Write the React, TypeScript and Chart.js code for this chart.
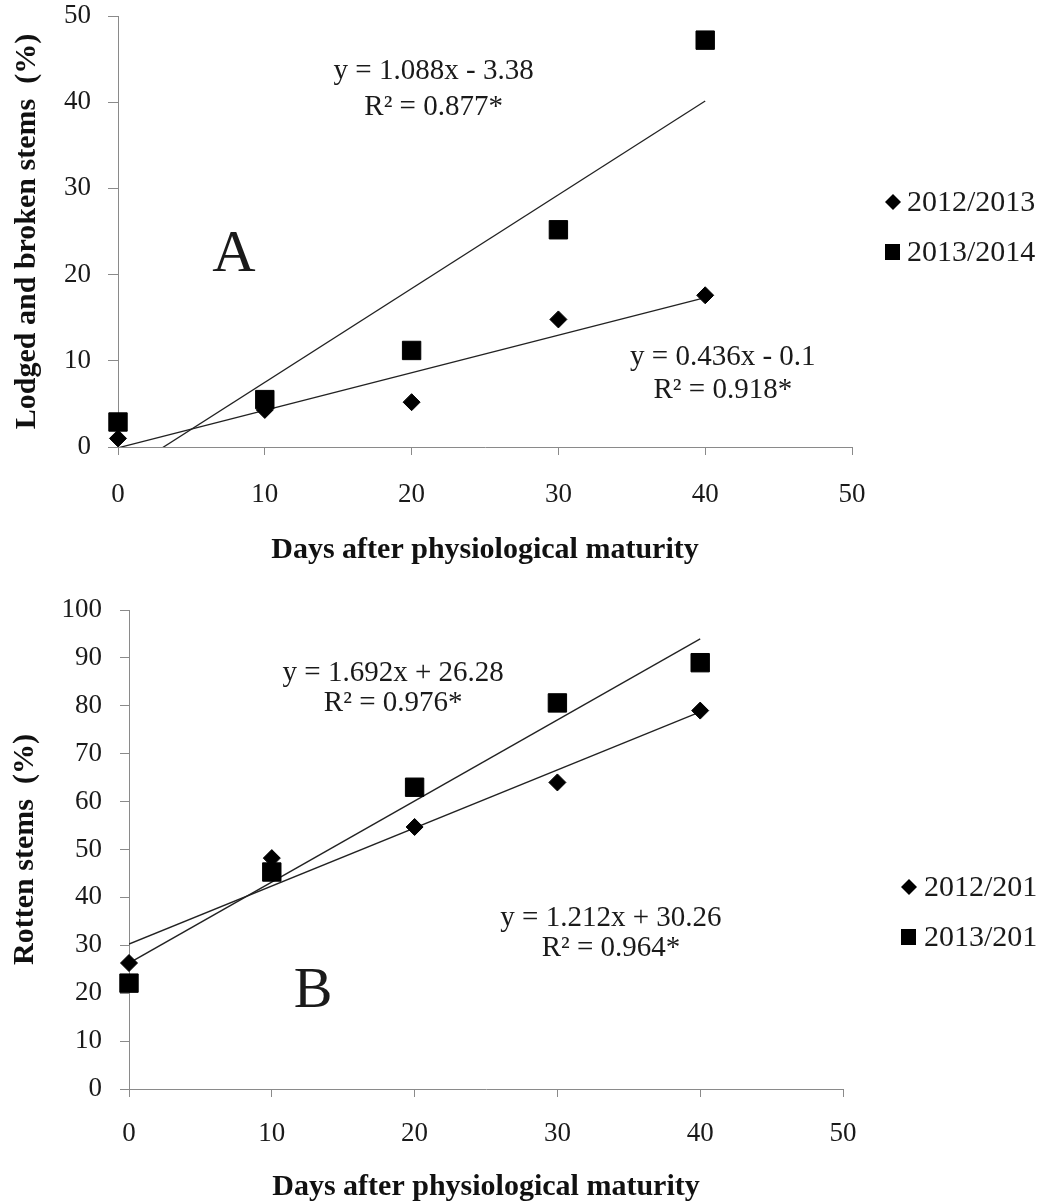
import React, { useEffect, useRef } from "react";
import { Chart, registerables } from "chart.js";

Chart.register(...registerables);

// ---------- data ----------
const days = [0, 10, 20, 30, 40];
const seriesLabels = ["2012/2013", "2013/2014"];

// Panel A: lodged and broken stems (%)
const lodged2012 = [1.0, 4.3, 5.2, 14.8, 17.6];
const lodged2013 = [2.9, 5.5, 11.2, 25.2, 47.2];
const lodgedSlopes = [0.436, 1.088];
const lodgedIntercepts = [-0.1, -3.38];
const lodgedR2 = ["0.918", "0.877"];

// Panel B: rotten stems (%)
const rotten2012 = [26.3, 48.2, 54.7, 64.0, 79.0];
const rotten2013 = [22.1, 45.3, 63.0, 80.6, 89.0];
const rottenSlopes = [1.212, 1.692];
const rottenIntercepts = [30.26, 26.28];
const rottenR2 = ["0.964", "0.976"];

const trendRange = [0, 40];
const xTicks = [0, 10, 20, 30, 40, 50];
const yTicksA = [0, 10, 20, 30, 40, 50];
const yTicksB = [0, 10, 20, 30, 40, 50, 60, 70, 80, 90, 100];

// ---------- styling ----------
const SERIF = "'Liberation Serif', 'Times New Roman', serif";
const INK = "#1a1a1a";
const AXIS = "#8a8a8a";

function eqText(slope: number, intercept: number) {
  const sign = intercept < 0 ? "-" : "+";
  return `y = ${slope.toFixed(3)}x ${sign} ${Math.abs(intercept)}`;
}

function trendPoints(slope: number, intercept: number) {
  return trendRange.map((d) => ({ x: d, y: slope * d + intercept }));
}

function pts(vals: number[]) {
  return vals.map((v, i) => ({ x: days[i], y: v }));
}

type Note = { text: string; x: number; y: number; size: number };
type PanelCfg = {
  height: number;
  yTitle: string;
  yMax: number;
  yTicks: number[];
  s2012: number[];
  s2013: number[];
  slopes: number[];
  intercepts: number[];
  r2: string[];
  eqPos: number[][];
  letter: string;
  letterPos: number[];
  letterSize: number;
  yAxisWidth: number;
  padRight: number;
  padTop: number;
  xAxisHeight: number;
  yTitlePad: number;
  yTickLen: number;
  yTickPad: number;
  xTickPad: number;
  xTitlePad: number;
  legendMarkerX: number;
  legendTextX: number;
  legendRows: number[];
  legendClipX: number;
};

const panelA: PanelCfg = {
  height: 585,
  yTitle: "Lodged and broken stems  (%)",
  yMax: 50,
  yTicks: yTicksA,
  s2012: lodged2012,
  s2013: lodged2013,
  slopes: lodgedSlopes,
  intercepts: lodgedIntercepts,
  r2: lodgedR2,
  eqPos: [
    [41.2, 10.4, 6.6],
    [21.5, 43.6, 39.4],
  ],
  letter: "A",
  letterPos: [7.9, 22.3],
  letterSize: 60,
  yAxisWidth: 118,
  padRight: 191,
  padTop: 16,
  xAxisHeight: 138,
  yTitlePad: 12,
  yTickLen: 10,
  yTickPad: 17,
  xTickPad: 24,
  xTitlePad: 20,
  legendMarkerX: 893,
  legendTextX: 907,
  legendRows: [202, 252],
  legendClipX: 1043,
};

const panelB: PanelCfg = {
  height: 617,
  yTitle: "Rotten stems  (%)",
  yMax: 100,
  yTicks: yTicksB,
  s2012: rotten2012,
  s2013: rotten2013,
  slopes: rottenSlopes,
  intercepts: rottenIntercepts,
  r2: rottenR2,
  eqPos: [
    [33.75, 35.7, 29.4],
    [18.5, 86.8, 80.6],
  ],
  letter: "B",
  letterPos: [12.9, 20.3],
  letterSize: 58,
  yAxisWidth: 129,
  padRight: 200,
  padTop: 25,
  xAxisHeight: 113,
  yTitlePad: 10,
  yTickLen: 9,
  yTickPad: 18,
  xTickPad: 21,
  xTitlePad: 0,
  legendMarkerX: 909,
  legendTextX: 924,
  legendRows: [302, 352],
  legendClipX: 1036,
};

function makeChart(canvas: HTMLCanvasElement, p: PanelCfg) {
  const notes: Note[] = [];
  for (let i = 0; i < 2; i++) {
    notes.push({ text: eqText(p.slopes[i], p.intercepts[i]), x: p.eqPos[i][0], y: p.eqPos[i][1], size: 29 });
    notes.push({ text: `R\u00B2 = ${p.r2[i]}*`, x: p.eqPos[i][0], y: p.eqPos[i][2], size: 29 });
  }
  notes.push({ text: p.letter, x: p.letterPos[0], y: p.letterPos[1], size: p.letterSize });

  const overlay = {
    id: "overlay",
    afterDraw(chart: any) {
      const { ctx } = chart;
      const xs = chart.scales.x;
      const ys = chart.scales.y;
      ctx.save();
      ctx.fillStyle = INK;
      ctx.textAlign = "center";
      ctx.textBaseline = "middle";
      for (const n of notes) {
        ctx.font = `${n.size}px ${SERIF}`;
        ctx.fillText(n.text, xs.getPixelForValue(n.x), ys.getPixelForValue(n.y));
      }
      // legend
      ctx.beginPath();
      ctx.rect(0, 0, p.legendClipX, chart.height);
      ctx.clip();
      ctx.textAlign = "left";
      ctx.font = `30px ${SERIF}`;
      const mx = p.legendMarkerX;
      const r0 = p.legendRows[0];
      const r1 = p.legendRows[1];
      ctx.fillStyle = "#000";
      ctx.beginPath();
      ctx.moveTo(mx - 8, r0);
      ctx.lineTo(mx, r0 - 8);
      ctx.lineTo(mx + 8, r0);
      ctx.lineTo(mx, r0 + 8);
      ctx.closePath();
      ctx.fill();
      ctx.fillRect(mx - 8, r1 - 8, 15, 16);
      ctx.fillStyle = INK;
      ctx.fillText(seriesLabels[0], p.legendTextX, r0 + 1);
      ctx.fillText(seriesLabels[1], p.legendTextX, r1 + 1);
      ctx.restore();
    },
  };

  const zeroPad = (s: any) => {
    s.paddingTop = 0;
    s.paddingBottom = 0;
    s.paddingLeft = 0;
    s.paddingRight = 0;
  };

  return new Chart(canvas, {
    type: "scatter",
    data: {
      datasets: [
        {
          label: seriesLabels[1],
          data: pts(p.s2013),
          pointStyle: "rect",
          pointRadius: 13,
          pointBackgroundColor: "#000",
          pointBorderColor: "#000",
          pointBorderWidth: 1,
          showLine: false,
          clip: false,
        },
        {
          label: seriesLabels[0],
          data: pts(p.s2012),
          pointStyle: "rectRot",
          pointRadius: 8.5,
          pointBackgroundColor: "#000",
          pointBorderColor: "#000",
          pointBorderWidth: 1,
          showLine: false,
          clip: false,
        },
        {
          label: "trend " + seriesLabels[0],
          data: trendPoints(p.slopes[0], p.intercepts[0]),
          showLine: true,
          pointRadius: 0,
          borderColor: "#222",
          borderWidth: 1.3,
        },
        {
          label: "trend " + seriesLabels[1],
          data: trendPoints(p.slopes[1], p.intercepts[1]),
          showLine: true,
          pointRadius: 0,
          borderColor: "#222",
          borderWidth: 1.3,
        },
      ],
    },
    options: {
      responsive: false,
      animation: false,
      devicePixelRatio: 1,
      layout: { padding: { left: 0, right: p.padRight, top: p.padTop, bottom: 0 } },
      plugins: { legend: { display: false }, tooltip: { enabled: false } },
      scales: {
        x: {
          type: "linear",
          min: 0,
          max: 50,
          afterBuildTicks: (s: any) => {
            s.ticks = xTicks.map((v) => ({ value: v }));
          },
          afterFit: (s: any) => {
            s.height = p.xAxisHeight;
            zeroPad(s);
          },
          ticks: { font: { family: SERIF, size: 27 }, color: INK, padding: p.xTickPad, maxRotation: 0 },
          grid: { drawOnChartArea: false, drawTicks: true, tickLength: 8, color: AXIS, lineWidth: 1 },
          border: { color: AXIS, width: 1 },
          title: {
            display: true,
            text: "Days after physiological maturity",
            font: { family: SERIF, size: 30, weight: "bold", lineHeight: 1 },
            color: "#111",
            padding: { top: 0, bottom: p.xTitlePad },
          },
        },
        y: {
          type: "linear",
          min: 0,
          max: p.yMax,
          afterBuildTicks: (s: any) => {
            s.ticks = p.yTicks.map((v) => ({ value: v }));
          },
          afterFit: (s: any) => {
            s.width = p.yAxisWidth;
            zeroPad(s);
          },
          ticks: { font: { family: SERIF, size: 27 }, color: INK, padding: p.yTickPad },
          grid: { drawOnChartArea: false, drawTicks: true, tickLength: p.yTickLen, color: AXIS, lineWidth: 1 },
          border: { color: AXIS, width: 1 },
          title: {
            display: true,
            text: p.yTitle,
            font: { family: SERIF, size: 30, weight: "bold", lineHeight: 1 },
            color: "#111",
            padding: { top: p.yTitlePad, bottom: 0 },
          },
        },
      },
    } as any,
    plugins: [overlay],
  });
}

export default function App() {
  const refA = useRef<HTMLCanvasElement>(null);
  const refB = useRef<HTMLCanvasElement>(null);

  useEffect(() => {
    document.body.style.margin = "0";
    document.body.style.background = "#fff";
    const a = makeChart(refA.current!, panelA);
    const b = makeChart(refB.current!, panelB);
    return () => {
      a.destroy();
      b.destroy();
    };
  }, []);

  return (
    <div style={{ width: 1043, height: 1202, background: "#fff", overflow: "hidden" }}>
      <canvas ref={refA} width={1043} height={panelA.height} style={{ display: "block" }} />
      <canvas ref={refB} width={1043} height={panelB.height} style={{ display: "block" }} />
    </div>
  );
}
